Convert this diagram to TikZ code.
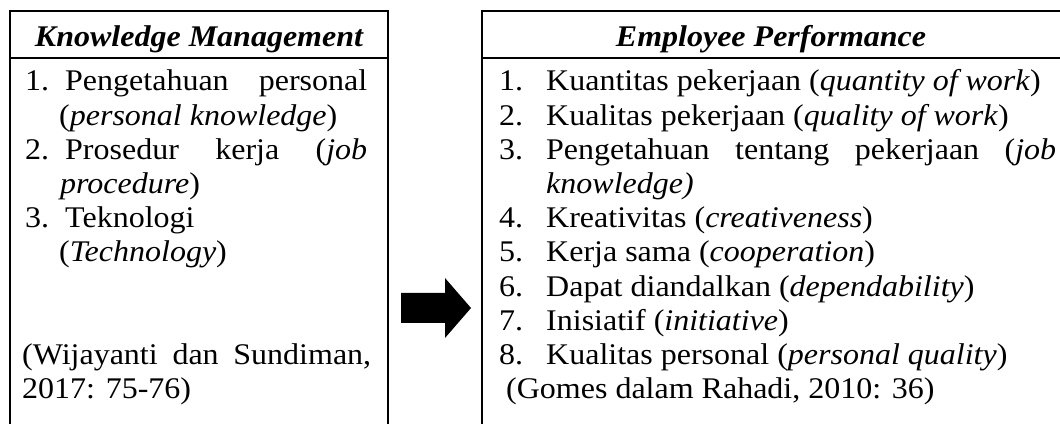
\documentclass[tikz,border=0pt]{standalone}
\usepackage{graphicx}
\usepackage{fontspec}
\setmainfont{Liberation Serif}
\newcommand\fs{\fontsize{30}{36}\selectfont}
\newcommand\SX[1]{\scalebox{1.066667}[1]{#1}}
\newcommand\JL[2]{\SX{\hbox to \dimexpr #1pt*15/16\relax{#2}}}
\tikzset{
  txt/.style={anchor=base west, inner sep=0pt, font=\fs},
  hd/.style={anchor=base, inner sep=0pt, font=\fs\bfseries\itshape},
  boxline/.style={line width=2.2pt},
}
\begin{document}
\begin{tikzpicture}[x=1pt,y=1pt]
\clip (0,0) rectangle (1060,423);
\fill[white] (0,0) rectangle (1060,423);
% boxes
\draw[boxline] (10,-10) |- (388,412) -- (388,-10);
\draw[boxline] (10,365) -- (388,365);
\draw[boxline] (482,-10) |- (1075,412);
\draw[boxline] (482,365) -- (1075,365);
% headers
\node[hd] (lhead) at (199,376) {\SX{Knowledge Management}};
\node[hd] (rhead) at (771,376) {\SX{Employee Performance}};
% left list
\node[txt] (ln1) at (25,332) {\SX{1.}};
\node[txt] (l1a) at (65,332) {\JL{302}{Pengetahuan\hfill personal}};
\node[txt] (l1b) at (59,297.8) {\SX{(\textit{personal knowledge})}};
\node[txt] (ln2) at (25,263.6) {\SX{2.}};
\node[txt] (l2a) at (65,263.6) {\JL{302}{Prosedur\hfill kerja\hfill (\textit{job}}};
\node[txt] (l2b) at (60,229.4) {\SX{\textit{procedure})}};
\node[txt] (ln3) at (25,195.2) {\SX{3.}};
\node[txt] (l3a) at (65,195.2) {\SX{Teknologi}};
\node[txt] (l3b) at (59,161) {\SX{(\textit{Technology})}};
\node[txt] (lc1) at (22,58.4) {\JL{349}{(Wijayanti\hfill dan\hfill Sundiman,}};
\node[txt] (lc2) at (22,24.2) {\SX{2017: 75-76)}};
% right list
\node[txt] (rn1) at (499,332) {\SX{1.}};
\node[txt] (r1) at (546,332) {\SX{Kuantitas pekerjaan (\textit{quantity of work})}};
\node[txt] (rn2) at (499,297.8) {\SX{2.}};
\node[txt] (r2) at (546,297.8) {\SX{Kualitas pekerjaan (\textit{quality of work})}};
\node[txt] (rn3) at (499,263.6) {\SX{3.}};
\node[txt] (r3a) at (546,263.6) {\JL{510}{Pengetahuan\hfill tentang\hfill pekerjaan\hfill (\textit{job}}};
\node[txt] (r3b) at (546,229.4) {\SX{\textit{knowledge)}}};
\node[txt] (rn4) at (499,195.2) {\SX{4.}};
\node[txt] (r4) at (546,195.2) {\SX{Kreativitas (\textit{creativeness})}};
\node[txt] (rn5) at (499,161) {\SX{5.}};
\node[txt] (r5) at (546,161) {\SX{Kerja sama (\textit{cooperation})}};
\node[txt] (rn6) at (499,126.8) {\SX{6.}};
\node[txt] (r6) at (546,126.8) {\SX{Dapat diandalkan (\textit{dependability})}};
\node[txt] (rn7) at (499,92.6) {\SX{7.}};
\node[txt] (r7) at (546,92.6) {\SX{Inisiatif (\textit{initiative})}};
\node[txt] (rn8) at (499,58.4) {\SX{8.}};
\node[txt] (r8) at (546,58.4) {\SX{Kualitas personal (\textit{personal quality})}};
\node[txt] (rc) at (506,24.2) {\SX{(Gomes dalam Rahadi, 2010: 36)}};
% block arrow
\coordinate (arr) at (401,115);
\fill[black] (arr) ++(0,15) -- ++(44,0) -- ++(0,15) -- ++(26,-30) -- ++(-26,-30) -- ++(0,15) -- ++(-44,0) -- cycle;
\end{tikzpicture}
\end{document}
